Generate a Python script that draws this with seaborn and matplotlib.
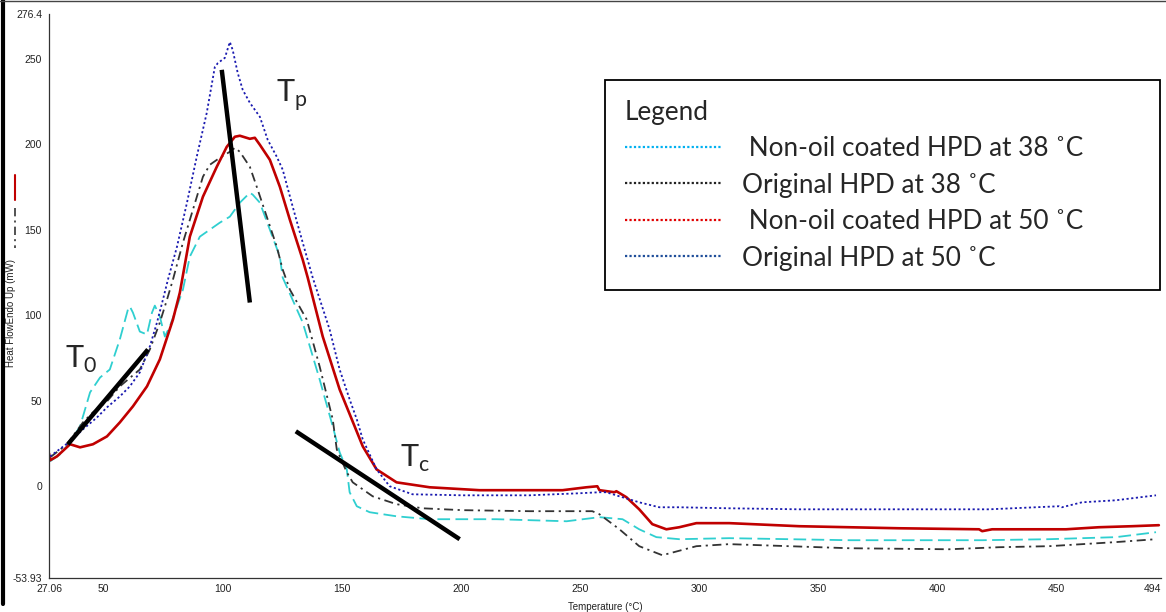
import matplotlib
matplotlib.use("Agg")
import matplotlib.pyplot as plt
import seaborn as sns
import pandas as pd
from matplotlib.lines import Line2D

# ---------------- data ----------------
series_names = ["Non-oil coated HPD at 38 ˚C", "Original HPD at 38 ˚C",
                "Non-oil coated HPD at 50 ˚C", "Original HPD at 50 ˚C"]

# Non-oil coated HPD at 38 C (cyan dashed)
cyan_T = [27.5, 31.7, 35.9, 40.1, 44.3, 48.5, 52.6, 56.8, 60.2, 61.0, 62.3, 65.2, 68.2, 70.3, 71.5,
          73.6, 75.7, 77.8, 80.8, 83.3, 86.2, 90.4, 94.6, 98.8, 103.0, 107.2, 111.4, 112.6, 115.6,
          119.8, 124.0, 125.2, 133.6, 140.7, 146.2, 149.1, 152.1, 153.3, 156.3, 161.7, 173.0, 186.9,
          215.0, 244.4, 258.2, 267.9, 274.9, 282.1, 291.7, 312.7, 363.1, 418.9, 446.9, 475.1, 491.9]
cyan_v = [14.4, 18.5, 25.5, 34.9, 54.8, 63.5, 68.2, 85.8, 103.3, 105.1, 101.5, 90.4, 88.7, 101.5, 105.6,
          99.2, 87.5, 93.4, 105.1, 115.0, 134.3, 146.0, 150.1, 154.2, 157.7, 165.9, 171.7, 170.6, 165.9,
          150.1, 134.3, 122.0, 95.7, 62.4, 34.9, 19.7, 9.7, -3.7, -11.9, -15.4, -17.8, -19.5,
          -19.5, -20.7, -18.3, -19.5, -25.4, -30.0, -31.2, -30.6, -31.8, -31.8, -31.2, -30.0, -27.1]

# Original HPD at 38 C (black dash-dot)
black_T = [27.5, 34.6, 41.3, 45.5, 51.4, 56.8, 65.2, 69.4, 73.6, 76.6, 79.1, 83.3, 87.5, 91.7, 94.6,
           98.8, 103.0, 105.1, 107.2, 111.4, 114.3, 118.5, 122.7, 125.2, 128.2, 135.3, 140.7, 146.2,
           147.9, 152.1, 154.6, 163.0, 173.0, 183.9, 200.7, 228.8, 255.2, 258.2, 266.6, 274.9, 284.6,
           298.9, 312.7, 363.1, 405.0, 426.0, 446.9, 475.1, 491.9]
black_v = [16.7, 24.4, 37.2, 43.1, 49.5, 58.3, 68.2, 79.9, 95.7, 109.1, 120.8, 142.5, 161.8, 181.1, 188.1,
           192.2, 195.7, 198.0, 195.7, 186.9, 175.2, 157.7, 140.1, 126.7, 115.0, 97.4, 70.0, 39.0,
           21.4, 8.0, 2.1, -6.1, -10.7, -13.1, -14.2, -14.8, -14.8, -16.6, -25.4, -35.3, -40.6,
           -35.3, -34.1, -36.5, -37.1, -35.9, -35.3, -32.9, -31.2]

# Non-oil coated HPD at 50 C (red solid)
red_T = [27.06, 27.5, 30.4, 35.9, 40.1, 45.5, 51.4, 56.8, 62.3, 68.2, 73.6, 79.1, 82.0, 86.2, 91.7,
         97.5, 101.7, 105.1, 107.2, 111.4, 113.5, 115.6, 119.8, 124.0, 128.2, 133.6, 135.7, 142.0,
         149.1, 154.2, 158.8, 164.6, 173.0, 186.9, 207.8, 242.7, 252.7, 257.3, 258.2, 264.5, 265.3,
         269.5, 274.9, 280.4, 286.3, 291.7, 298.9, 312.7, 342.1, 384.0, 417.6, 418.9, 423.1, 454.1,
         467.9, 481.8, 493.1]
red_v = [19.1, 15.0, 17.3, 24.4, 22.6, 24.4, 29.0, 37.2, 46.6, 58.3, 74.1, 97.4, 113.2, 146.0, 169.4,
         186.9, 198.6, 204.5, 205.1, 203.3, 203.9, 199.8, 191.0, 175.2, 155.9, 132.5, 122.0, 87.5,
         56.5, 39.0, 23.2, 9.7, 2.1, -0.8, -2.5, -2.5, -0.8, -0.2, -2.5, -3.7, -3.1,
         -6.6, -13.7, -22.4, -25.4, -24.2, -21.8, -21.8, -23.6, -24.8, -25.4, -26.5, -25.4, -25.4,
         -24.2, -23.6, -23.0]

# Original HPD at 50 C (blue dotted)
blue_T = [27.5, 35.9, 41.3, 47.2, 51.4, 56.8, 61.0, 65.2, 69.4, 72.4, 74.9, 77.0, 80.8, 85.0, 89.1,
          93.3, 96.7, 98.0, 100.9, 103.0, 104.2, 106.3, 108.4, 111.4, 115.6, 118.9, 122.7, 125.2,
          129.4, 133.6, 137.8, 144.9, 149.1, 153.3, 156.3, 158.8, 164.6, 170.1, 179.7, 200.7, 228.8,
          249.8, 258.2, 261.1, 266.6, 274.9, 283.3, 291.7, 312.7, 342.1, 384.0, 421.8, 451.2, 452.4,
          460.8, 475.1, 491.9]
blue_v = [17.3, 26.1, 33.1, 40.1, 46.0, 52.4, 58.3, 66.5, 81.7, 95.7, 109.1, 120.8, 140.1, 165.9, 192.8,
          218.5, 245.4, 247.7, 250.7, 260.0, 255.3, 241.9, 232.0, 224.4, 216.2, 202.7, 192.8, 185.2,
          163.5, 142.5, 122.0, 91.6, 68.2, 50.7, 39.0, 27.3, 9.7, -0.2, -4.9, -5.5, -5.5,
          -4.3, -3.7, -3.7, -6.1, -9.6, -12.5, -12.5, -13.1, -13.7, -13.7, -13.7, -11.9, -12.5,
          -9.6, -8.4, -5.5]

# tangent construction lines (T, value) end points
t0_line_T, t0_line_v = [35.0, 68.6], [24.4, 79.9]
tp_line_T, tp_line_v = [99.6, 111.4], [243.7, 107.4]
tc_line_T, tc_line_v = [130.7, 199.5], [32.0, -31.2]

# annotation labels and anchor points
anno_text = ["T$_{\\mathregular{0}}$", "T$_{\\mathregular{p}}$", "T$_{\\mathregular{c}}$"]
anno_T = [33.8, 122.3, 174.3]
anno_v = [69.4, 224.9, 11.0]

x_ticks = [27.06, 50, 100, 150, 200, 250, 300, 350, 400, 450, 494]
x_ticklabels = ["27.06", "50", "100", "150", "200", "250", "300", "350", "400", "450", "494"]
y_ticks = [-53.93, 0, 50, 100, 150, 200, 250, 276.4]
y_ticklabels = ["-53.93", "0", "50", "100", "150", "200", "250", "276.4"]

# ---------------- styling ----------------
sns.set_style("white")
plt.rcParams["font.family"] = ["Liberation Sans", "DejaVu Sans"]

fig = plt.figure(figsize=(11.66, 6.12), dpi=100)
ax = fig.add_axes([49 / 1166, 1 - 578 / 612, (1161 - 49) / 1166, (578 - 14) / 612])

styles = [
    (cyan_T, cyan_v, "#2fcfd0", (0, (7, 3)), 1.3),
    (black_T, black_v, "#333333", (0, (5, 2.5, 1.2, 2.5)), 1.3),
    (red_T, red_v, "#c00000", "-", 1.9),
    (blue_T, blue_v, "#1a1ab0", (0, (1.2, 1.4)), 1.3),
]
for name, (T, v, col, ls, lw) in zip(series_names, styles):
    df = pd.DataFrame({"Temperature": T, "HeatFlow": v})
    sns.lineplot(data=df, x="Temperature", y="HeatFlow", ax=ax, color=col,
                 linestyle=ls, linewidth=lw, sort=False, estimator=None)

for T, v in [(t0_line_T, t0_line_v), (tp_line_T, tp_line_v), (tc_line_T, tc_line_v)]:
    ax.plot(T, v, color="black", linewidth=3.2, solid_capstyle="butt")

for txt, T, v in zip(anno_text, anno_T, anno_v):
    ax.text(T, v, txt, fontsize=22, family=["Lato", "DejaVu Sans"], va="baseline", ha="left")

ax.set_xlim(27.06, 494)
ax.set_ylim(-53.93, 276.4)
ax.set_xticks(x_ticks)
ax.set_xticklabels(x_ticklabels)
ax.set_yticks(y_ticks)
ax.set_yticklabels(y_ticklabels)
ax.tick_params(axis="both", labelsize=7.5, colors="#222222", length=3, width=0.8, pad=2)
ax.tick_params(axis="x", direction="inout", length=4)
ax.tick_params(axis="y", direction="out")
ax.get_xticklabels()[-1].set_horizontalalignment("right")
for s in ["top", "right"]:
    ax.spines[s].set_visible(False)
for s in ["left", "bottom"]:
    ax.spines[s].set_color("#333333")
    ax.spines[s].set_linewidth(0.9)

ax.set_xlabel("Temperature (°C)", fontsize=7, color="#222222")
ax.set_ylabel("Heat FlowEndo Up (mW)", fontsize=7, color="#222222")
ax.xaxis.set_label_coords(0.5, -0.043)
ax.yaxis.set_label_coords(-0.030, 0.47)

# legend
leg_colors = ["#00b0f0", "#222222", "#e00000", "#1f4e9a"]
handles = [Line2D([], [], color=c, linestyle=(0, (1, 1)), linewidth=1.6) for c in leg_colors]
leg_labels = [" " + series_names[0], series_names[1], " " + series_names[2], series_names[3]]
fp = {"family": ["Lato", "DejaVu Sans"], "size": 18.8}
leg = ax.legend(handles, leg_labels, title="Legend", loc="upper left",
                bbox_to_anchor=(0.5, 0.511, 0.499, 0.372), mode="expand", borderaxespad=0,
                prop=fp, title_fontproperties=fp, alignment="left",
                handlelength=3.7, handletextpad=0.8, labelspacing=0.44, borderpad=0.75,
                frameon=True, fancybox=False, edgecolor="black", framealpha=1)
leg.get_frame().set_linewidth(1.3)

# side markers of the original software (line-style keys next to the y label)
fig.add_artist(Line2D([15 / 1166, 15 / 1166], [1 - 175 / 612, 1 - 200 / 612],
                      color="#c00000", linewidth=1.5))
fig.add_artist(Line2D([15 / 1166, 15 / 1166], [1 - 208 / 612, 1 - 248 / 612],
                      color="#333333", linewidth=1.2, linestyle=(0, (5, 2.5, 1.2, 2.5))))
# outer frame of the screenshot
fig.add_artist(Line2D([3 / 1166, 3 / 1166], [1, 1 - 604 / 612], color="black", linewidth=3))
fig.add_artist(Line2D([0, 1], [1 - 1 / 612, 1 - 1 / 612], color="#444444", linewidth=1))

fig.savefig("out.png", dpi=100)
